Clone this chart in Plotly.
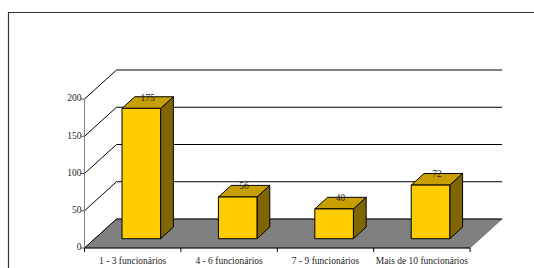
import plotly.graph_objects as go

# ---- data ----
categories = ["1 - 3 funcionários", "4 - 6 funcionários", "7 - 9 funcionários", "Mais de 10 funcionários"]
values = [175, 56, 40, 72]
y_ticks = [0, 50, 100, 150, 200]
y_tick_labels = ["0", "50", "100", "150", "200"]

# ---- geometry ----
W, H = 534, 268
PX_X = 96.4                   # pixels per category unit
PX_Y = 0.745                  # pixels per value unit
X0_PX, Y0_PX = 84.5, 248.0
xr = [-X0_PX / PX_X, (W - X0_PX) / PX_X]
yr = [-(H - Y0_PX) / PX_Y, Y0_PX / PX_Y]
DX = 32 / PX_X        # depth offset (category units)
DY = 29 / PX_Y        # depth offset (value units)
T0, T1 = 0.32, 0.72   # bar depth (front/back fraction)
BAR_L, BAR_W = 0.283, 0.40
n = len(categories)
ymax = y_ticks[-1]
px2x = lambda p: p / PX_X
px2y = lambda p: p / PX_Y

FRONT = "#FFCC00"
TOP = "#C89F00"
SIDE = "#806600"
FLOOR = "#808080"
FONT = "Liberation Serif, Times New Roman, serif"
FS = 9.5

fig = go.Figure()

def poly(xs, ys, fill, lw=1, lc="black"):
    fig.add_trace(go.Scatter(x=xs + [xs[0]], y=ys + [ys[0]], mode="lines", fill="toself",
                             fillcolor=fill, line=dict(color=lc, width=lw), hoverinfo="skip"))

def lines(xs, ys, color="black", width=1):
    fig.add_trace(go.Scatter(x=xs, y=ys, mode="lines", line=dict(color=color, width=width),
                             hoverinfo="skip", connectgaps=False))

# outer frame (top and left edges visible)
fx = xr[0] + px2x(8.5)
fy = yr[1] - px2y(12.5)
lines([xr[1], fx, fx], [fy, fy, yr[0]], color="#333333", width=1.2)

# floor
poly([0, n, n + DX, DX], [0, 0, DY, DY], FLOOR, lw=0.5, lc="#555555")

# back wall gridlines + left wall diagonals
gx, gy = [], []
for t in y_ticks:
    gx += [DX, n + DX, None]
    gy += [t + DY, t + DY, None]
    gx += [0, DX, None]
    gy += [t, t + DY, None]
lines(gx, gy)

# front y axis and ticks
lines([0, 0], [0, ymax], color="#808080")
tx, ty = [], []
for t in y_ticks:
    tx += [-px2x(3.5), 0, None]
    ty += [t, t, None]
lines(tx, ty, color="#555555")

# front floor edge + category ticks
lines([0, n], [0, 0])
cx, cy = [], []
for k in range(n + 1):
    cx += [k, k, None]
    cy += [0, -px2y(4), None]
lines(cx, cy)

# bars
for i, v in enumerate(values):
    xl = i + BAR_L
    xrt = xl + BAR_W
    fx0, fy0 = xl + T0 * DX, T0 * DY
    fx1 = xrt + T0 * DX
    bx_off, by_off = (T1 - T0) * DX, (T1 - T0) * DY
    # side face
    poly([fx1, fx1 + bx_off, fx1 + bx_off, fx1],
         [fy0, fy0 + by_off, fy0 + v + by_off, fy0 + v], SIDE)
    # top face
    poly([fx0, fx1, fx1 + bx_off, fx0 + bx_off],
         [fy0 + v, fy0 + v, fy0 + v + by_off, fy0 + v + by_off], TOP)
    # front face
    poly([fx0, fx1, fx1, fx0], [fy0, fy0, fy0 + v, fy0 + v], FRONT)

# value labels
lab_x = [i + BAR_L + BAR_W / 2 + (T0 + T1) / 2 * DX for i in range(n)]
lab_y = [v + T1 * DY - px2y(1.5) for v in values]
fig.add_trace(go.Scatter(x=lab_x, y=lab_y, mode="text", text=[str(v) for v in values],
                         textposition="middle center",
                         textfont=dict(family=FONT, size=FS, color="#222222"), hoverinfo="skip"))

# y tick labels
fig.add_trace(go.Scatter(x=[-px2x(3.0)] * len(y_ticks), y=y_ticks, mode="text", text=y_tick_labels,
                         textposition="middle left",
                         textfont=dict(family=FONT, size=FS, color="#222222"), hoverinfo="skip"))

# category labels
fig.add_trace(go.Scatter(x=[i + 0.5 for i in range(n)], y=[-px2y(14)] * n, mode="text", text=categories,
                         textposition="middle center",
                         textfont=dict(family=FONT, size=FS, color="#222222"), hoverinfo="skip"))

fig.update_layout(
    width=W, height=H, autosize=False,
    margin=dict(l=0, r=0, t=0, b=0, pad=0),
    paper_bgcolor="white", plot_bgcolor="white",
    showlegend=False, hovermode=False,
    xaxis=dict(range=xr, visible=False, fixedrange=True),
    yaxis=dict(range=yr, visible=False, fixedrange=True),
)
for tr in fig.data:
    tr.cliponaxis = False

fig.write_html("out.html", config={"displayModeBar": False},
               post_script="document.body.style.margin='0';document.body.style.overflow='hidden';")
